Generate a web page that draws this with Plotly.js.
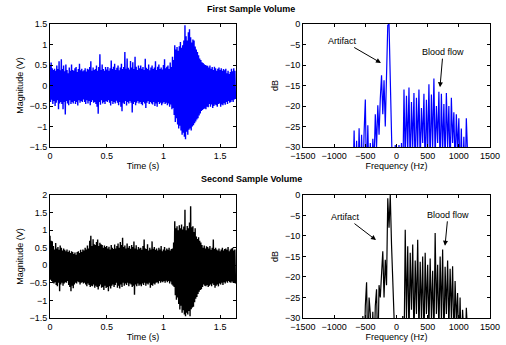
<!DOCTYPE html>
<html><head><meta charset="utf-8">
<script src="https://cdn.plot.ly/plotly-3.0.1.min.js"></script>
<style>html,body{margin:0;padding:0;background:#fff}#chart{width:506px;height:345px}</style>
</head><body><div id="chart"></div>
<script>
// ---- Data ----
// Envelope samples every 0.01 s (upper and lower excursions of the Doppler signal)
const timeStep = 0.01;
const up1 = [
0.50,0.56,0.42,0.38,0.41,0.36,0.49,0.40,0.59,0.37,
0.64,0.40,0.49,0.35,0.51,0.38,0.30,0.44,0.36,0.51,
0.38,0.36,0.42,0.45,0.33,0.40,0.53,0.37,0.41,0.35,
0.37,0.42,0.34,0.41,0.39,0.45,0.59,0.36,0.44,0.38,
0.40,0.49,0.36,0.45,0.76,0.38,0.51,0.40,0.36,0.45,
0.39,0.45,0.36,0.42,0.61,0.40,0.46,0.53,0.38,0.43,
0.49,0.37,0.44,0.53,0.40,0.45,0.82,0.41,0.66,0.43,
0.39,0.60,0.44,0.57,0.40,0.70,0.46,0.38,0.49,0.42,
0.49,0.41,0.45,0.38,0.65,0.43,0.40,0.51,0.37,0.44,
0.49,0.40,0.44,0.59,0.38,0.46,0.51,0.40,0.44,0.39,
0.50,0.64,0.42,0.46,0.49,0.40,0.56,0.45,0.70,0.62,
0.98,0.88,0.94,0.85,0.96,1.06,0.92,0.98,1.10,1.47,
1.20,1.10,1.30,1.37,1.18,1.05,1.12,1.10,0.95,0.88,
0.82,0.74,0.66,0.62,0.57,0.55,0.52,0.50,0.49,0.48,
0.44,0.49,0.41,0.45,0.38,0.46,0.42,0.36,0.41,0.44,
0.38,0.42,0.36,0.40,0.37,0.41,0.30,0.36,0.28,0.33,
0.41,0.35,0.42,0.36];
const lo1 = [
-0.40,-0.35,-0.45,-0.38,-0.50,-0.42,-0.36,-0.58,-0.44,-0.40,
-0.45,-0.58,-0.40,-0.71,-0.38,-0.44,-0.48,-0.36,-0.45,-0.40,
-0.44,-0.38,-0.45,-0.40,-0.49,-0.36,-0.42,-0.38,-0.40,-0.34,
-0.40,-0.45,-0.36,-0.44,-0.38,-0.48,-0.40,-0.36,-0.42,-0.40,
-0.45,-0.52,-0.69,-0.40,-0.47,-0.36,-0.44,-0.40,-0.45,-0.38,
-0.40,-0.36,-0.42,-0.49,-0.38,-0.45,-0.40,-0.44,-0.37,-0.42,
-0.48,-0.40,-0.52,-0.63,-0.42,-0.45,-0.38,-0.49,-0.40,-0.44,
-0.38,-0.42,-0.66,-0.45,-0.40,-0.48,-0.42,-0.38,-0.44,-0.40,
-0.45,-0.48,-0.40,-0.44,-0.55,-0.42,-0.38,-0.45,-0.40,-0.44,
-0.46,-0.40,-0.50,-0.44,-0.52,-0.40,-0.45,-0.42,-0.48,-0.44,
-0.40,-0.45,-0.42,-0.48,-0.44,-0.52,-0.46,-0.58,-0.55,-0.72,
-0.89,-0.80,-0.95,-1.05,-0.98,-1.10,-1.20,-1.15,-1.25,-1.31,
-1.13,-1.20,-1.08,-1.05,-1.10,-1.00,-0.97,-0.92,-0.88,-0.83,
-0.80,-0.73,-0.68,-0.62,-0.60,-0.57,-0.56,-0.58,-0.52,-0.53,
-0.45,-0.52,-0.46,-0.55,-0.50,-0.46,-0.48,-0.52,-0.45,-0.44,
-0.52,-0.46,-0.48,-0.43,-0.47,-0.40,-0.45,-0.38,-0.42,-0.40,
-0.36,-0.40,-0.34,-0.33];
const up2 = [
0.84,0.70,0.68,0.55,0.45,0.63,0.48,0.52,0.44,0.56,
0.50,0.42,0.48,0.44,0.40,0.45,0.38,0.42,0.35,0.40,
0.38,0.32,0.36,0.30,0.38,0.40,0.35,0.44,0.38,0.45,
0.42,0.50,0.45,0.56,0.48,0.70,0.84,0.55,0.74,0.60,
0.58,0.66,0.73,0.55,0.64,0.60,0.58,0.50,0.56,0.52,
0.55,0.48,0.53,0.45,0.58,0.50,0.46,0.59,0.48,0.55,
0.62,0.50,0.66,0.58,0.78,0.52,0.56,0.48,0.62,0.50,
0.55,0.47,0.58,0.52,0.68,0.48,0.57,0.45,0.52,0.48,
0.50,0.44,0.55,0.73,0.48,0.46,0.60,0.42,0.50,0.45,
0.68,0.47,0.52,0.44,0.48,0.42,0.50,0.45,0.55,0.40,
0.45,0.52,0.42,0.48,0.44,0.50,0.42,0.46,0.48,0.65,
1.25,1.05,1.11,1.00,1.14,1.05,1.16,1.02,1.10,1.58,
1.00,1.12,1.05,1.22,1.68,1.08,1.11,0.95,1.05,0.82,
0.75,0.80,0.70,0.65,0.58,0.50,0.56,0.48,0.54,0.52,
0.48,0.55,0.44,0.50,0.73,0.46,0.50,0.45,0.42,0.48,
0.40,0.45,0.50,0.42,0.46,0.48,0.44,0.52,0.40,0.45,
0.48,0.50,0.42,0.45];
const lo2 = [
-0.41,-0.45,-0.50,-0.52,-0.48,-0.56,-0.60,-0.50,-0.74,-0.55,
-0.50,-0.58,-0.52,-0.48,-0.50,-0.45,-0.56,-0.62,-0.74,-0.58,
-0.65,-0.55,-0.50,-0.52,-0.46,-0.48,-0.55,-0.50,-0.48,-0.52,
-0.50,-0.55,-0.60,-0.52,-0.56,-0.62,-0.58,-0.60,-0.55,-0.64,
-0.58,-0.62,-0.69,-0.60,-0.55,-0.64,-0.62,-0.70,-0.58,-0.65,
-0.62,-0.74,-0.60,-0.66,-0.58,-0.55,-0.62,-0.56,-0.50,-0.64,
-0.58,-0.66,-0.55,-0.62,-0.50,-0.58,-0.52,-0.56,-0.50,-0.60,
-0.52,-0.55,-0.62,-0.58,-0.84,-0.55,-0.60,-0.52,-0.58,-0.55,
-0.60,-0.52,-0.56,-0.50,-0.58,-0.52,-0.55,-0.50,-0.64,-0.56,
-0.58,-0.52,-0.55,-0.50,-0.48,-0.52,-0.45,-0.50,-0.46,-0.48,
-0.45,-0.50,-0.44,-0.48,-0.45,-0.52,-0.46,-0.55,-0.58,-0.62,
-0.85,-0.98,-0.92,-1.10,-1.26,-1.15,-1.35,-1.28,-1.40,-1.45,
-1.35,-1.40,-1.30,-1.45,-1.25,-1.20,-1.18,-1.05,-0.95,-0.90,
-0.82,-0.75,-0.70,-0.68,-0.62,-0.55,-0.58,-0.60,-0.56,-0.62,
-0.58,-0.55,-0.60,-0.52,-0.56,-0.64,-0.58,-0.55,-0.60,-0.52,
-0.55,-0.50,-0.56,-0.48,-0.52,-0.46,-0.50,-0.45,-0.48,-0.50,
-0.46,-0.50,-0.48,-0.52];

// Spectra in dB on a 20 Hz grid from -700 Hz to 1160 Hz (values below -30 dB fall off the axis)
const freqStart = -700, freqStep = 20;
const spec1 = [
-40,-26,-40,-28.5,-40,-25.4,-40,-27,-40,-26.5,
-18.4,-40,-24.7,-40,-29,-40,-28,-34,-22,-30,
-19.8,-27,-18.2,-12.5,-22,-13.7,-25,-11,-0.3,0,
-15,-26,-40,-40,-29.5,-40,-40,-29.5,-40,-29,
-40,-16,-34,-17.5,-31,-15.5,-36,-19,-30,-16.8,
-38,-18,-30,-16,-34,-20.5,-29,-17,-37,-18.5,
-31,-14.7,-35,-17.2,-30,-13.3,-33,-20,-29,-16.5,
-36,-17,-31,-19.5,-34,-16.8,-30,-20,-36,-18,
-29,-21.5,-35,-22,-31,-23,-38,-25.5,-40,-27.5,
-40,-23,-40,-40];
const spec2 = [
-40,-40,-40,-40,-40,-40,-40,-40,-29.5,-40,
-27,-21.3,-40,-25,-29,-40,-28.5,-40,-27,-23,
-40,-22,-25,-18.2,-13.7,-25,-15.8,-22,-0.8,-8,
0,-12,-24,-29.5,-40,-40,-40,-40,-30,-40,
-29.5,-40,-8.5,-30,-12.5,-35,-14.1,-28,-12.1,-36,
-16,-29,-10.9,-34,-16.3,-30,-15,-38,-14.1,-29,
-17,-33,-15.5,-30,-18.5,-36,-9.3,-29,-17,-34,
-15,-30,-13.3,-37,-17.5,-29,-16,-33,-18,-30,
-17.4,-36,-21,-31,-23.9,-38,-25,-40,-28,-40,
-40,-27.5,-40,-40];

const xTicksTime = [0, 0.5, 1, 1.5];
const xTicksFreq = [-1500, -1000, -500, 0, 500, 1000, 1500];

// ---- Build traces ----
function zigzag(up, lo) {
  const x = [], y = [];
  for (let i = 0; i < up.length; i++) {
    x.push(i * timeStep); y.push(up[i]);
    x.push(i * timeStep + timeStep / 2); y.push(lo[i]);
  }
  return {x, y};
}
const z1 = zigzag(up1, lo1), z2 = zigzag(up2, lo2);
const freq = spec1.map((_, i) => freqStart + i * freqStep);

const BLUE = '#0000ff', BLACK = '#000000';
const traces = [
  {x: z1.x, y: z1.y, xaxis: 'x', yaxis: 'y', mode: 'lines', line: {color: BLUE, width: 1.4}},
  {x: freq, y: spec1, xaxis: 'x2', yaxis: 'y2', mode: 'lines', line: {color: BLUE, width: 1.2}},
  {x: z2.x, y: z2.y, xaxis: 'x3', yaxis: 'y3', mode: 'lines', line: {color: BLACK, width: 1.4}},
  {x: freq, y: spec2, xaxis: 'x4', yaxis: 'y4', mode: 'lines', line: {color: BLACK, width: 1.2}}
];

const FONT = 'Liberation Sans, Arial, Helvetica, sans-serif';
function ax(extra) {
  return Object.assign({
    showline: true, linecolor: '#000', linewidth: 1, mirror: 'ticks',
    ticks: 'inside', ticklen: 3, tickcolor: '#000', tickwidth: 1,
    showgrid: false, zeroline: false, fixedrange: true,
    tickfont: {family: FONT, size: 9, color: '#000'}
  }, extra);
}
const tfont = {family: FONT, size: 9, color: '#000'};
const xL = [0.0988, 0.4664], xR = [0.5988, 0.9684];
const yT = [0.5739, 0.9304], yB = [0.0783, 0.4348];

const layout = {
  width: 506, height: 345, showlegend: false,
  margin: {l: 0, r: 0, t: 0, b: 0},
  paper_bgcolor: '#fff', plot_bgcolor: '#fff',
  font: {family: FONT, size: 9, color: '#000'},
  xaxis: ax({domain: xL, anchor: 'y', range: [0, 1.64], tickvals: xTicksTime, title: {text: 'Time (s)', font: tfont, standoff: 2}}),
  yaxis: ax({domain: yT, anchor: 'x', range: [-1.5, 1.5], dtick: 0.5, title: {text: 'Magnitude (V)', font: tfont, standoff: 4}}),
  xaxis2: ax({domain: xR, anchor: 'y2', range: [-1500, 1500], tickvals: xTicksFreq, title: {text: 'Frequency (Hz)', font: tfont, standoff: 2}}),
  yaxis2: ax({domain: yT, anchor: 'x2', range: [-30, 0], dtick: 5, title: {text: 'dB', font: tfont, standoff: 4}}),
  xaxis3: ax({domain: xL, anchor: 'y3', range: [0, 1.64], tickvals: xTicksTime, title: {text: 'Time (s)', font: tfont, standoff: 2}}),
  yaxis3: ax({domain: yB, anchor: 'x3', range: [-1.5, 2], dtick: 0.5, title: {text: 'Magnitude (V)', font: tfont, standoff: 4}}),
  xaxis4: ax({domain: xR, anchor: 'y4', range: [-1500, 1500], tickvals: xTicksFreq, title: {text: 'Frequency (Hz)', font: tfont, standoff: 2}}),
  yaxis4: ax({domain: yB, anchor: 'x4', range: [-30, 0], dtick: 5, title: {text: 'dB', font: tfont, standoff: 4}}),
  annotations: [
    {text: '<b>First Sample Volume</b>', xref: 'paper', yref: 'paper', x: 0.497, y: 0.9725, showarrow: false, font: {family: FONT, size: 9, color: '#000'}, xanchor: 'center', yanchor: 'middle'},
    {text: '<b>Second Sample Volume</b>', xref: 'paper', yref: 'paper', x: 0.497, y: 0.4812, showarrow: false, font: {family: FONT, size: 9, color: '#000'}, xanchor: 'center', yanchor: 'middle'},
    {text: 'Artifact', xref: 'x2', yref: 'y2', x: -249, y: -9.5, ax: -38, ay: -22, showarrow: true, arrowhead: 2, arrowsize: 1, arrowwidth: 1, arrowcolor: '#000', font: tfont},
    {text: 'Blood flow', xref: 'x2', yref: 'y2', x: 698, y: -15.4, ax: 3, ay: -35, showarrow: true, arrowhead: 2, arrowsize: 1, arrowwidth: 1, arrowcolor: '#000', font: tfont},
    {text: 'Artifact', xref: 'x4', yref: 'y4', x: -329, y: -11.0, ax: -30, ay: -23, showarrow: true, arrowhead: 2, arrowsize: 1, arrowwidth: 1, arrowcolor: '#000', font: tfont},
    {text: 'Blood flow', xref: 'x4', yref: 'y4', x: 778, y: -12.4, ax: 3, ay: -31, showarrow: true, arrowhead: 2, arrowsize: 1, arrowwidth: 1, arrowcolor: '#000', font: tfont}
  ]
};
Plotly.newPlot('chart', traces, layout, {staticPlot: true, displayModeBar: false});
</script></body></html>
